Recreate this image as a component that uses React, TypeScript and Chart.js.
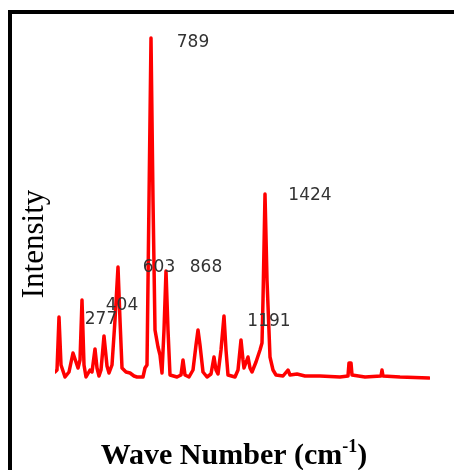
import React, { useEffect, useRef } from "react";
import { Chart, registerables } from "chart.js";

Chart.register(...registerables);

// Raman shift (cm-1) and intensity (a.u.)
const waveNumbers = [
  100, 110, 120, 130, 150, 170, 190, 205, 215, 225, 235, 245, 255, 275, 285, 300, 310, 320, 330, 345,
  360, 370, 385, 400, 415, 425, 435, 455, 475, 495, 510, 540, 550, 560, 570, 580, 590, 600, 615, 625,
  635, 645, 655, 665, 675, 710, 730, 740, 750, 770, 790, 805, 815, 825, 840, 860, 880, 895, 905, 915,
  930, 945, 955, 965, 1000, 1015, 1030, 1040, 1045, 1065, 1075, 1085, 1105, 1125, 1135, 1140, 1150, 1160, 1175, 1190,
  1205, 1240, 1265, 1275, 1310, 1350, 1425, 1525, 1565, 1570, 1580, 1585, 1650, 1730, 1735, 1740, 1825, 1970,
];
const intensities = [
  24, 30, 189, 45, 9, 24, 81, 54, 36, 60, 240, 45, 9, 30, 24, 93, 36, 12, 30, 132,
  42, 21, 45, 180, 339, 180, 36, 24, 21, 12, 9, 9, 36, 45, 540, 1026, 540, 150, 99, 75,
  21, 150, 327, 150, 15, 9, 15, 60, 15, 9, 30, 105, 150, 105, 24, 9, 18, 69, 30, 18,
  90, 192, 90, 15, 9, 30, 120, 60, 36, 69, 36, 24, 54, 90, 111, 240, 558, 300, 69, 30,
  15, 12, 30, 15, 18, 12, 12, 9, 12, 51, 51, 15, 9, 12, 30, 12, 9, 6,
];

// Peak annotations: label text and the (wave number, intensity) where it sits
const peakLabels = ["789", "1424", "603", "868", "404", "277", "1191"];
const peakLabelX = [790, 1375, 620, 855, 435, 330, 1170];
const peakLabelY = [1011, 552, 336, 336, 222, 180, 174];

const xTitleMain = "Wave Number (cm";
const xTitleSup = "-1";
const xTitleEnd = ")";
const yTitle = "Intensity";

export default function App() {
  const ref = useRef<HTMLCanvasElement | null>(null);

  useEffect(() => {
    if (!ref.current) return;
    const annotate = {
      id: "annotate",
      afterDatasetsDraw(chart: any) {
        const { ctx, scales } = chart;
        const xs = scales.x;
        const ys = scales.y;
        ctx.save();
        ctx.fillStyle = "#333333";
        ctx.font = '17px "DejaVu Sans"';
        ctx.textAlign = "center";
        ctx.textBaseline = "middle";
        peakLabels.forEach((t, i) => {
          ctx.fillText(t, xs.getPixelForValue(peakLabelX[i]), ys.getPixelForValue(peakLabelY[i]));
        });

        // x-axis title with superscript
        ctx.fillStyle = "#000000";
        ctx.textAlign = "left";
        ctx.textBaseline = "alphabetic";
        const mainFont = 'bold 30px "Liberation Serif"';
        const supFont = 'bold 18px "Liberation Serif"';
        ctx.font = mainFont;
        const w1 = ctx.measureText(xTitleMain).width;
        const w3 = ctx.measureText(xTitleEnd).width;
        ctx.font = supFont;
        const w2 = ctx.measureText(xTitleSup).width;
        const cx = 234;
        const base = 464;
        let x0 = cx - (w1 + w2 + w3) / 2;
        ctx.font = mainFont;
        ctx.fillText(xTitleMain, x0, base);
        x0 += w1;
        ctx.font = supFont;
        ctx.fillText(xTitleSup, x0, base - 12);
        x0 += w2;
        ctx.font = mainFont;
        ctx.fillText(xTitleEnd, x0, base);

        // y-axis title
        ctx.translate(35, 244);
        ctx.rotate(-Math.PI / 2);
        ctx.font = '31px "Liberation Serif"';
        ctx.textAlign = "center";
        ctx.textBaseline = "middle";
        ctx.fillText(yTitle, 0, 0);
        ctx.restore();
      },
    };

    const chart = new Chart(ref.current, {
      type: "line",
      data: {
        datasets: [
          {
            data: waveNumbers.map((x, i) => ({ x, y: intensities[i] })),
            borderColor: "#ff0000",
            borderWidth: 3.5,
            borderJoinStyle: "round",
            borderCapStyle: "round",
            pointRadius: 0,
            tension: 0,
            fill: false,
          },
        ],
      },
      options: {
        animation: false,
        responsive: false,
        layout: { padding: { left: 55, right: 24, top: 30, bottom: 90 } },
        plugins: { legend: { display: false }, tooltip: { enabled: false } },
        scales: {
          x: { type: "linear", min: 100, max: 1975, display: false },
          y: { type: "linear", min: 0, max: 1050, display: false },
        },
      },
      plugins: [annotate],
    } as any);
    return () => chart.destroy();
  }, []);

  return (
    <div style={{ position: "fixed", left: 0, top: 0, width: 454, height: 470, overflow: "hidden" }}>
      <div
        style={{
          position: "absolute",
          left: 8,
          top: 10,
          width: 446,
          height: 460,
          borderTop: "4px solid #000",
          borderLeft: "4px solid #000",
          boxSizing: "border-box",
        }}
      />
      <canvas ref={ref} width={454} height={470} style={{ position: "absolute", left: 0, top: 0 }} />
    </div>
  );
}
